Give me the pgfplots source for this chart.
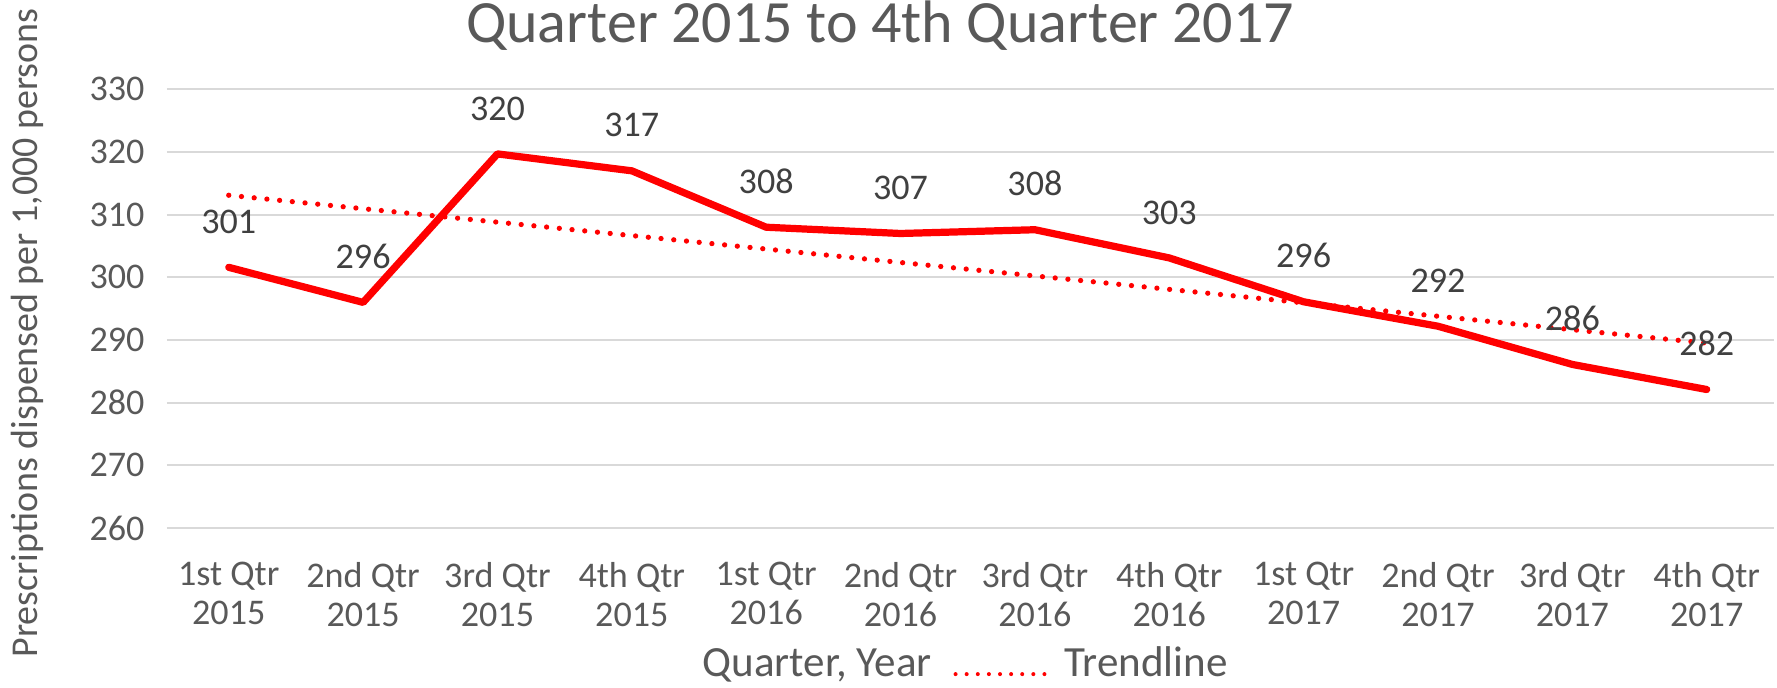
\documentclass[border=0pt]{standalone}
\usepackage{pgfplots}
\pgfplotsset{compat=1.18}
\usepackage{fontspec}
\setmainfont{Carlito}
\definecolor{gridgray}{HTML}{D9D9D9}
\definecolor{ticktext}{HTML}{595959}
\definecolor{labeltext}{HTML}{404040}
\definecolor{linered}{HTML}{FF0000}
\begin{document}
\begin{tikzpicture}
\begin{axis}[
  at={(60.1pt,57.6pt)}, anchor=south west,
  scale only axis, width=578.5pt, height=157.9pt,
  xmin=-0.46, xmax=11.5, ymin=260, ymax=330,
  axis line style={draw=none},
  major tick length=0pt,
  ymajorgrids, grid style={gridgray, line width=0.75pt},
  ytick={260,270,...,330},
  xtick={0,...,11},
  xticklabels={{1st Qtr\\2015},{2nd Qtr\\2015},{3rd Qtr\\2015},{4th Qtr\\2015},{1st Qtr\\2016},{2nd Qtr\\2016},{3rd Qtr\\2016},{4th Qtr\\2016},{1st Qtr\\2017},{2nd Qtr\\2017},{3rd Qtr\\2017},{4th Qtr\\2017}},
  /pgf/number format/assume math mode=true,
  yticklabel style={font=\fontsize{13}{14}\selectfont, text=ticktext, anchor=east, inner sep=0pt, xshift=-7.9pt},
  xticklabel style={font=\fontsize{13}{14}\selectfont, text=ticktext, align=center, anchor=north, inner sep=0pt, yshift=-12.2pt},
  clip=false,
]
\addplot[draw=linered, line width=1.9pt, line cap=round, dash pattern=on 0pt off 4.6pt] coordinates {(0,313.1) (11,289.5)};
\addplot[draw=linered, line width=2.6pt, line join=round, line cap=round,
  point meta=explicit symbolic, nodes near coords,
  every node near coord/.style={anchor=base, inner sep=0pt, yshift=12.2pt, font=\fontsize{13}{14}\selectfont, text=labeltext}]
  coordinates {
  (0,301.6) [301]
  (1,296.0) [296]
  (2,319.7) [320]
  (3,317.0) [317]
  (4,308.0) [308]
  (5,307.0) [307]
  (6,307.6) [308]
  (7,303.1) [303]
  (8,296.1) [296]
  (9,292.2) [292]
  (10,286.1) [286]
  (11,282.1) [282]
  };
\end{axis}
\node[anchor=base, text=ticktext, font=\fontsize{21.6}{24}\selectfont, inner sep=0pt] at (316.8pt,232.3pt) {Quarter 2015 to 4th Quarter 2017};
\node[rotate=90, text=ticktext, font=\fontsize{13.65}{15}\selectfont, inner sep=0pt] at (9.8pt,127.8pt) {Prescriptions dispensed per 1,000 persons};
\node[anchor=base west, text=ticktext, font=\fontsize{15.5}{17}\selectfont, inner sep=0pt] at (252.7pt,4pt) {Quarter, Year};
\draw[linered, line width=1.45pt, line cap=round, dash pattern=on 0pt off 4pt] (344pt,5pt) -- (377pt,5pt);
\node[anchor=base west, text=ticktext, font=\fontsize{15.5}{17}\selectfont, inner sep=0pt] at (383pt,4pt) {Trendline};
\pgfresetboundingbox
\path[use as bounding box] (0,0) rectangle (639.72pt,247.68pt);
\end{tikzpicture}
\end{document}
